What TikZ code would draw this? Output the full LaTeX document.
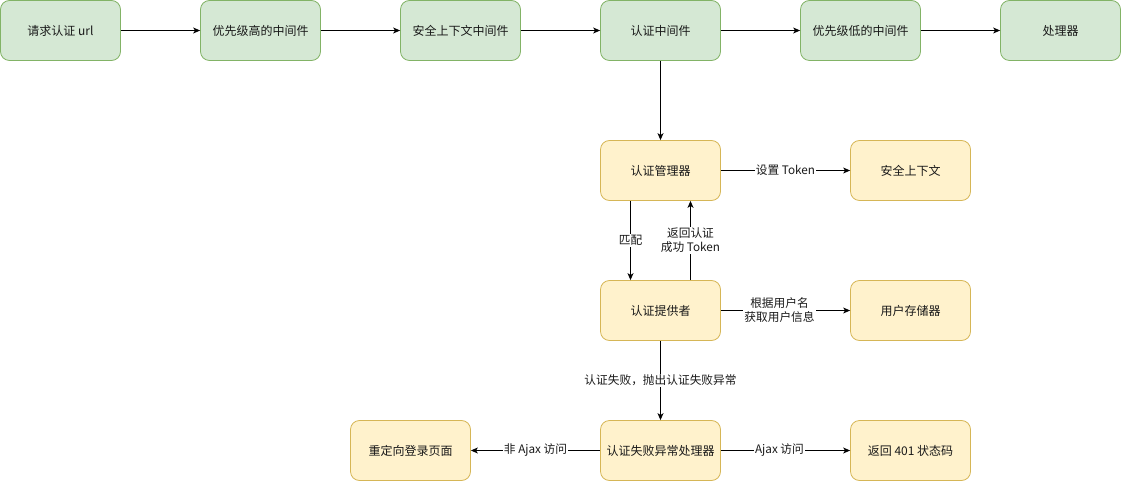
\documentclass[tikz,border=0pt]{standalone}
\usepackage{fontspec}
\setmainfont{Noto Sans CJK SC}
\usetikzlibrary{arrows.meta}
\definecolor{gfill}{HTML}{D5E8D4}
\definecolor{gdraw}{HTML}{82B366}
\definecolor{yfill}{HTML}{FFF2CC}
\definecolor{ydraw}{HTML}{D6B656}
\begin{document}
\begin{tikzpicture}[x=1pt,y=-1pt,
  box/.style={rectangle,rounded corners=9pt,minimum width=120pt,minimum height=60pt,line width=0.8pt,inner sep=0pt,font=\fontsize{12}{14}\selectfont,text=black!90},
  gbox/.style={box,fill=gfill,draw=gdraw},
  ybox/.style={box,fill=yfill,draw=ydraw},
  conn/.style={line width=0.8pt,-{Stealth[length=7pt,width=6pt,inset=2pt]}},
  lab/.style={fill=white,inner sep=1pt,font=\fontsize{11.7}{14}\selectfont,align=center,text=black!90}]
\useasboundingbox (0,0) rectangle (1121,481);
\node[gbox] (req) at (60.5,30.5) {请求认证 url};
\node[gbox] (hi) at (260.5,30.5) {优先级高的中间件};
\node[gbox] (sec) at (460.5,30.5) {安全上下文中间件};
\node[gbox] (auth) at (660.5,30.5) {认证中间件};
\node[gbox] (lo) at (860.5,30.5) {优先级低的中间件};
\node[gbox] (proc) at (1060.5,30.5) {处理器};
\node[ybox] (mgr) at (660.5,170.5) {认证管理器};
\node[ybox] (ctx) at (910.5,170.5) {安全上下文};
\node[ybox] (prov) at (660.5,310.5) {认证提供者};
\node[ybox] (store) at (910.5,310.5) {用户存储器};
\node[ybox] (hand) at (660.5,450.5) {认证失败异常处理器};
\node[ybox] (redir) at (410.5,450.5) {重定向登录页面};
\node[ybox] (ret) at (910.5,450.5) {返回 401 状态码};
\draw[conn] (req) -- (hi);
\draw[conn] (hi) -- (sec);
\draw[conn] (sec) -- (auth);
\draw[conn] (auth) -- (lo);
\draw[conn] (lo) -- (proc);
\draw[conn] (auth) -- (mgr);
\draw[conn] (mgr) -- node[lab] {设置 Token} (ctx);
\draw[conn] ([xshift=-30pt]mgr.south) -- node[lab] {匹配} ([xshift=-30pt]prov.north);
\draw[conn] ([xshift=30pt]prov.north) -- node[lab] {返回认证\\成功 Token} ([xshift=30pt]mgr.south);
\draw[conn] (prov) -- node[lab,xshift=-6pt] {根据用户名\\获取用户信息} (store);
\draw[conn] (prov) -- node[lab] {认证失败，抛出认证失败异常} (hand);
\draw[conn] (hand) -- node[lab] {非 Ajax 访问} (redir);
\draw[conn] (hand) -- node[lab,xshift=-6pt] {Ajax 访问} (ret);
\end{tikzpicture}
\end{document}
